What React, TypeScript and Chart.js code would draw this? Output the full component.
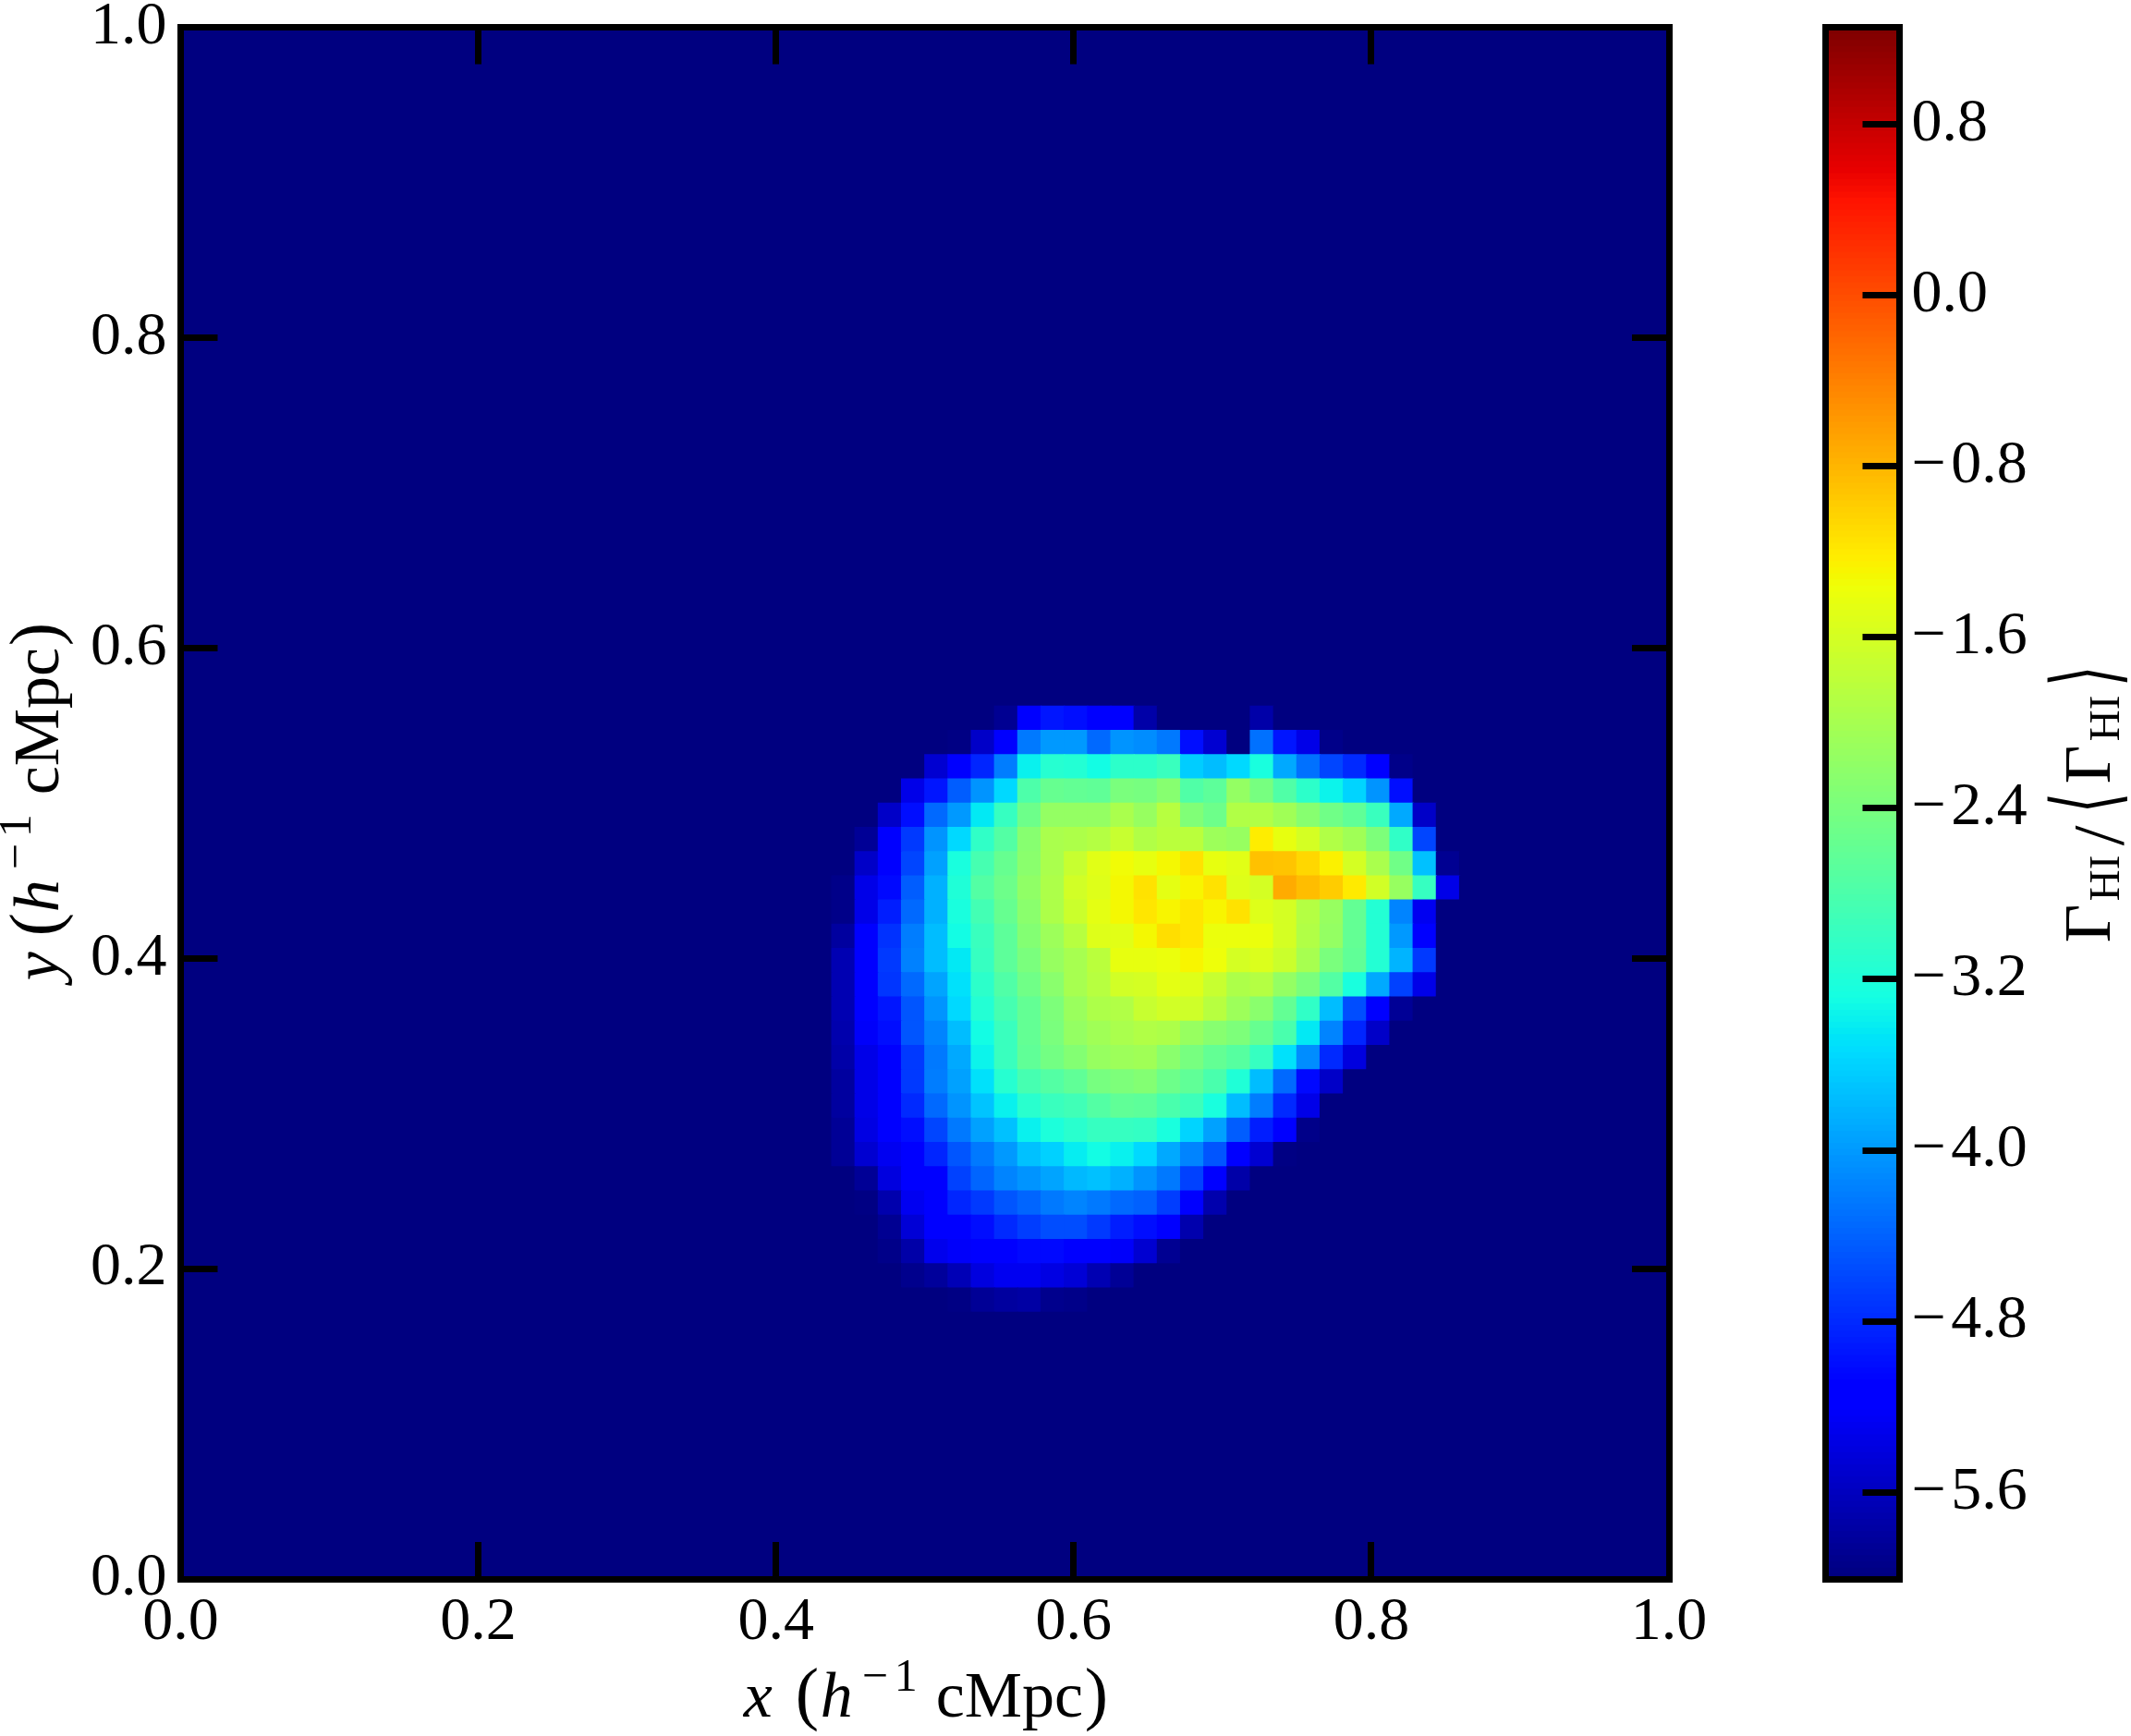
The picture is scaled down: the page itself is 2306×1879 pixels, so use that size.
import React, { useEffect, useRef } from "react";
import { Chart, registerables } from "chart.js";

Chart.register(...registerables);

const F = -6.005; // floor of the colour scale (background)
const vMin = -6.005;
const vMax = 1.253;
const gridSize = 64;

const xTicks = [0, 0.2, 0.4, 0.6, 0.8, 1];
const yTicks = [0, 0.2, 0.4, 0.6, 0.8, 1];
const barTicks = [-5.6, -4.8, -4, -3.2, -2.4, -1.6, -0.8, 0, 0.8];

// Rows are counted from the top of the map; first column of each row is in rowStarts.
const row28 = [-5.9, -5.2, -4.95, -5.0, -5.2, -5.15, -5.75, F, F, F, F, -5.75];
const row29 = [-5.98, -5.55, -5.1, -4.25, -4.0, -4.0, -4.35, -4.05, -4.1, -4.25, -5.0, -5.5, F, -4.3, -4.95, -5.35, -5.95];
const row30 = [-5.5, -5.2, -4.85, -4.2, -3.4, -3.12, -3.15, -3.3, -3.07, -3.07, -2.95, -3.65, -3.75, -3.55, -3.25, -3.9, -4.3, -4.6, -4.8, -5.2, -5.95];
const row31 = [-5.35, -4.95, -4.45, -4.05, -3.55, -2.8, -2.55, -2.58, -2.62, -2.4, -2.42, -2.28, -2.75, -2.65, -2.15, -2.42, -2.75, -3.07, -3.35, -3.58, -4.05, -5.0];
const row32 = [-5.55, -5.0, -4.35, -4.0, -3.45, -3.0, -2.5, -2.17, -2.17, -2.17, -1.97, -2.12, -1.85, -2.32, -2.5, -1.92, -1.9, -2.05, -2.28, -2.47, -2.62, -2.97, -3.9, -5.55];
const row33 = [-5.85, -5.2, -4.7, -4.05, -3.55, -3.05, -2.72, -2.28, -1.97, -1.93, -1.87, -1.7, -1.9, -1.82, -1.82, -2.08, -2.12, -1.22, -1.42, -1.6, -1.9, -2.05, -2.35, -3.05, -4.6];
const row34 = [-5.55, -5.2, -4.6, -3.95, -3.25, -2.85, -2.55, -2.25, -1.97, -1.7, -1.48, -1.35, -1.42, -1.3, -1.13, -1.43, -1.48, -0.87, -0.9, -1.06, -1.25, -1.6, -1.97, -2.47, -3.72, -5.9];
const row35 = [-5.95, -5.35, -5.05, -4.45, -3.85, -3.2, -2.72, -2.5, -2.2, -1.93, -1.62, -1.52, -1.3, -1.13, -1.45, -1.28, -1.13, -1.5, -1.58, -0.72, -0.85, -0.98, -1.2, -1.62, -2.12, -3.0, -5.35];
const row36 = [-5.95, -5.35, -4.9, -4.35, -3.85, -3.25, -2.87, -2.55, -2.25, -1.93, -1.68, -1.45, -1.3, -1.17, -1.28, -1.17, -1.27, -1.13, -1.5, -1.6, -1.87, -2.12, -2.6, -3.15, -4.15, -5.3];
const row37 = [-5.8, -5.2, -4.75, -4.2, -3.75, -3.3, -2.95, -2.65, -2.3, -2.08, -1.85, -1.5, -1.48, -1.3, -1.12, -1.17, -1.38, -1.38, -1.38, -1.6, -1.9, -2.17, -2.6, -3.15, -4.0, -5.2];
const row38 = [-5.7, -5.2, -4.7, -4.18, -3.75, -3.45, -3.0, -2.65, -2.4, -2.12, -2.0, -1.83, -1.42, -1.42, -1.38, -1.28, -1.37, -1.6, -1.55, -1.68, -2.0, -2.4, -2.62, -3.15, -3.82, -4.7];
const row39 = [-5.68, -5.2, -4.72, -4.35, -3.92, -3.5, -3.08, -2.77, -2.47, -2.25, -2.0, -1.85, -1.62, -1.6, -1.45, -1.5, -1.7, -1.93, -1.88, -2.17, -2.4, -2.72, -3.25, -3.9, -4.65, -5.35];
const row40 = [-5.68, -5.15, -4.95, -4.5, -4.05, -3.55, -3.15, -2.85, -2.58, -2.35, -2.1, -1.93, -1.9, -1.72, -1.62, -1.65, -1.85, -2.08, -2.25, -2.6, -3.05, -3.75, -4.55, -5.15, -5.85];
const row41 = [-5.72, -5.25, -5.0, -4.5, -4.15, -3.75, -3.3, -2.95, -2.58, -2.4, -2.17, -2.05, -1.95, -1.9, -1.93, -2.12, -2.28, -2.35, -2.55, -2.82, -3.45, -4.15, -4.85, -5.55];
const row42 = [-5.75, -5.35, -5.15, -4.7, -4.25, -3.9, -3.35, -2.95, -2.62, -2.45, -2.3, -2.12, -2.08, -2.05, -2.25, -2.42, -2.58, -2.7, -3.0, -3.5, -4.1, -4.8, -5.4];
const row43 = [-5.8, -5.35, -5.2, -4.7, -4.2, -3.95, -3.5, -3.13, -2.85, -2.72, -2.62, -2.42, -2.35, -2.3, -2.5, -2.62, -2.82, -3.2, -3.75, -4.35, -5.05, -5.55];
const row44 = [-5.8, -5.35, -5.2, -4.8, -4.35, -4.05, -3.7, -3.4, -3.1, -2.97, -2.9, -2.72, -2.62, -2.65, -2.82, -2.93, -3.25, -3.77, -4.2, -4.8, -5.35];
const row45 = [-5.85, -5.38, -5.2, -5.0, -4.6, -4.25, -3.95, -3.72, -3.4, -3.22, -3.1, -3.0, -3.0, -3.03, -3.25, -3.58, -3.95, -4.45, -4.9, -5.2, -5.95];
const row46 = [-5.85, -5.5, -5.3, -5.15, -4.85, -4.5, -4.25, -4.0, -3.72, -3.6, -3.42, -3.3, -3.38, -3.55, -3.9, -4.15, -4.5, -5.1, -5.5, -5.98];
const row47 = [-5.85, -5.42, -5.2, -5.1, -4.65, -4.38, -4.15, -4.05, -3.92, -3.78, -3.73, -3.85, -4.05, -4.25, -4.65, -5.18, -5.75];
const row48 = [-5.97, -5.72, -5.3, -5.15, -4.85, -4.7, -4.5, -4.38, -4.25, -4.15, -4.25, -4.35, -4.4, -4.68, -5.15, -5.72];
const row49 = [-5.9, -5.45, -5.2, -5.15, -5.02, -4.82, -4.68, -4.55, -4.55, -4.7, -4.9, -5.0, -5.18, -5.72];
const row50 = [-5.95, -5.75, -5.33, -5.25, -5.18, -5.12, -5.05, -5.05, -5.15, -5.18, -5.25, -5.5, -5.9];
const row51 = [-5.92, -5.82, -5.65, -5.42, -5.28, -5.28, -5.38, -5.45, -5.7, -5.87];
const row52 = [-5.97, -5.85, -5.8, -5.78, -5.92, -5.95];

const firstRow = 28;
const rowStarts = [35, 33, 32, 31, 30, 29, 29, 28, 28, 28, 28, 28, 28, 28, 28, 28, 28, 28, 28, 29, 29, 30, 30, 31, 33];
const mapRows = [row28, row29, row30, row31, row32, row33, row34, row35, row36, row37, row38, row39, row40, row41, row42, row43, row44, row45, row46, row47, row48, row49, row50, row51, row52];

type Seg = { t: string; dx: number; size: number; italic?: boolean; dy?: number; family?: string; sx?: number };

const xTitle: Seg[] = [
  { t: "x", dx: 0, size: 70, italic: true },
  { t: "(", dx: 56, size: 76 },
  { t: "h", dx: 83, size: 70, italic: true },
  { t: "\u2212", dx: 128, size: 50, dy: 28 },
  { t: "1", dx: 163, size: 50, dy: 28 },
  { t: "cMpc", dx: 208, size: 70 },
  { t: ")", dx: 369, size: 76 },
];
const yTitle: Seg[] = [
  { t: "y", dx: 0, size: 70, italic: true },
  { t: "(", dx: 48, size: 76 },
  { t: "h", dx: 74, size: 70, italic: true },
  { t: "\u2212", dx: 120, size: 50, dy: 30 },
  { t: "1", dx: 155, size: 50, dy: 30 },
  { t: "cMpc", dx: 201, size: 70 },
  { t: ")", dx: 362, size: 76 },
];
const barTitle: Seg[] = [
  { t: "\u0393", dx: 0, size: 72 },
  { t: "HI", dx: 45, size: 47, dy: -10 },
  { t: "/", dx: 105, size: 78, dy: -14 },
  { t: "\u27E8", dx: 140, size: 97, family: "DejaVu Sans", dy: -6, sx: 0.6 },
  { t: "\u0393", dx: 172, size: 72 },
  { t: "HI", dx: 218, size: 47, dy: -10 },
  { t: "\u27E9", dx: 277, size: 97, family: "DejaVu Sans", dy: -6, sx: 0.6 },
];

const serif = "'Liberation Serif'";

function jet(v: number): string {
  const raw = (v - vMin) / (vMax - vMin);
  const f = Math.round(Math.min(1, Math.max(0, raw)) * 255) / 255;
  const ramp = (pts: number[][]) => {
    for (let i = 1; i < pts.length; i++) {
      if (f <= pts[i][0]) {
        const [a, ya] = pts[i - 1];
        const [b, yb] = pts[i];
        return ya + ((f - a) / (b - a)) * (yb - ya);
      }
    }
    return pts[pts.length - 1][1];
  };
  const r = ramp([[0, 0], [0.35, 0], [0.66, 1], [0.89, 1], [1, 0.5]]);
  const g = ramp([[0, 0], [0.125, 0], [0.375, 1], [0.64, 1], [0.91, 0], [1, 0]]);
  const b = ramp([[0, 0.5], [0.11, 1], [0.34, 1], [0.65, 0], [1, 0]]);
  return `rgb(${Math.round(r * 255)},${Math.round(g * 255)},${Math.round(b * 255)})`;
}

function valueAt(col: number, row: number): number {
  const i = row - firstRow;
  if (i < 0 || i >= mapRows.length) return F;
  const j = col - rowStarts[i];
  const r = mapRows[i];
  if (j < 0 || j >= r.length) return F;
  return r[j];
}

const cells: { x: number; y: number[]; v: number }[] = [];
for (let row = 0; row < gridSize; row++) {
  for (let col = 0; col < gridSize; col++) {
    cells.push({
      x: (col + 0.5) / gridSize,
      y: [1 - (row + 1) / gridSize, 1 - row / gridSize],
      v: valueAt(col, row),
    });
  }
}
const barLevels = Array.from({ length: 256 }, (_, i) => vMin + ((i + 0.5) / 256) * (vMax - vMin));
const barCells = barLevels.map((v, i) => ({
  x: 0.5,
  y: [vMin + (i / 256) * (vMax - vMin), vMin + ((i + 1) / 256) * (vMax - vMin)],
  v,
}));

function drawSegs(ctx: CanvasRenderingContext2D, segs: Seg[], ox: number, oy: number, rotate: boolean) {
  ctx.save();
  ctx.translate(ox, oy);
  if (rotate) ctx.rotate(-Math.PI / 2);
  ctx.fillStyle = "#000";
  ctx.textBaseline = "alphabetic";
  ctx.textAlign = "left";
  for (const s of segs) {
    const fam = s.family ? `'${s.family}'` : serif;
    ctx.font = `${s.italic ? "italic " : ""}${s.size}px ${fam}`;
    ctx.save();
    ctx.translate(s.dx, -(s.dy ?? 0));
    if (s.sx) ctx.scale(s.sx, 1);
    ctx.fillText(s.t, 0, 0);
    ctx.restore();
  }
  ctx.restore();
}

const frameW = 7;
const tickLen = 40;

function axisBase(extra: any) {
  return {
    type: "linear",
    offset: false,
    border: { display: true, width: frameW, color: "#000", z: 1 },
    grid: {
      offset: false,
      drawOnChartArea: false,
      drawTicks: true,
      tickLength: -tickLen,
      tickWidth: frameW,
      tickColor: "#000",
      lineWidth: frameW,
      color: "#000",
      z: 1,
    },
    ...extra,
  };
}

function fixedTicks(list: number[]) {
  return (s: any) => {
    s.ticks = list.map((value) => ({ value }));
  };
}
const clearPad = (s: any) => {
  s.paddingLeft = 0;
  s.paddingRight = 0;
  s.paddingTop = 0;
  s.paddingBottom = 0;
};
const fitH = (h: number) => (s: any) => {
  s.height = h;
  clearPad(s);
};
const fitW = (w: number) => (s: any) => {
  s.width = w;
  clearPad(s);
};
const noLabels = { display: false };
const fmt = (v: any) => {
  const n = Number(v);
  return (n < 0 ? "\u2212\u200A" : "") + Math.abs(n).toFixed(1);
};
const labelFont = { family: serif, size: 66 };
const barDataset = (data: any[]) => ({
  data,
  backgroundColor: data.map((c) => jet(c.v)),
  borderWidth: 0,
  barPercentage: 1,
  categoryPercentage: 1,
  inflateAmount: 0.6,
});
const baseOptions = {
  animation: false,
  responsive: false,
  devicePixelRatio: 1,
  events: [],
  layout: { padding: 0 },
  plugins: { legend: { display: false }, tooltip: { enabled: false } },
};

export default function App() {
  const mainRef = useRef<HTMLCanvasElement>(null);
  const barRef = useRef<HTMLCanvasElement>(null);

  useEffect(() => {
    const titles = {
      id: "mathTitles",
      afterDraw(chart: any) {
        const { ctx, chartArea: a } = chart;
        const cx = (a.left + a.right) / 2;
        const cy = (a.top + a.bottom) / 2;
        drawSegs(ctx, xTitle, cx - 196, 1858, false);
        drawSegs(ctx, yTitle, 63, cy + 192, true);
      },
    };
    const main = new Chart(mainRef.current as HTMLCanvasElement, {
      type: "bar",
      data: { datasets: [barDataset(cells)] },
      options: {
        ...baseOptions,
        scales: {
          x: axisBase({
            position: "bottom",
            min: 0,
            max: 1,
            afterBuildTicks: fixedTicks(xTicks),
            afterFit: fitH(170),
            ticks: { font: labelFont, color: "#000", padding: 48, maxRotation: 0, autoSkip: false, callback: fmt, z: 1 },
          }),
          x2: axisBase({
            position: "top",
            min: 0,
            max: 1,
            afterBuildTicks: fixedTicks(xTicks),
            afterFit: fitH(29.5),
            ticks: noLabels,
          }),
          y: axisBase({
            position: "left",
            min: 0,
            max: 1,
            afterBuildTicks: fixedTicks(yTicks),
            afterFit: fitW(195.5),
            ticks: { font: labelFont, color: "#000", padding: 55, autoSkip: false, callback: fmt, z: 1 },
          }),
          y2: axisBase({
            position: "right",
            min: 0,
            max: 1,
            afterBuildTicks: fixedTicks(yTicks),
            afterFit: fitW(94),
            ticks: noLabels,
          }),
        } as any,
      },
      plugins: [titles],
    } as any);

    const barTitles = {
      id: "barTitle",
      afterDraw(chart: any) {
        const { ctx, chartArea: a } = chart;
        drawSegs(ctx, barTitle, 383, (a.top + a.bottom) / 2 + 151, true);
      },
    };
    const frameOnly = (extra: any) => {
      const o = axisBase({ afterBuildTicks: fixedTicks([]), ticks: noLabels, ...extra });
      o.grid = { ...o.grid, drawTicks: false };
      return o;
    };
    const bar = new Chart(barRef.current as HTMLCanvasElement, {
      type: "bar",
      data: { datasets: [barDataset(barCells)] },
      options: {
        ...baseOptions,
        scales: {
          x: frameOnly({ position: "bottom", min: 0, max: 1, afterFit: fitH(170) }),
          x2: frameOnly({ position: "top", min: 0, max: 1, afterFit: fitH(29.5) }),
          y: frameOnly({ position: "left", min: vMin, max: vMax, afterFit: fitW(75.5) }),
          y2: axisBase({
            axis: "y",
            position: "right",
            min: vMin,
            max: vMax,
            afterBuildTicks: fixedTicks(barTicks),
            afterFit: fitW(250.5),
            ticks: { font: labelFont, color: "#000", padding: 53, autoSkip: false, callback: fmt, z: 1 },
          }),
        } as any,
      },
      plugins: [barTitles],
    } as any);

    return () => {
      main.destroy();
      bar.destroy();
    };
  }, []);

  return (
    <div style={{ position: "absolute", left: 0, top: 0, width: 2306, height: 1879, background: "#fff", overflow: "hidden" }}>
      <canvas ref={mainRef} width={1900} height={1879} style={{ position: "absolute", left: 0, top: 0, width: 1900, height: 1879 }} />
      <canvas ref={barRef} width={406} height={1879} style={{ position: "absolute", left: 1900, top: 0, width: 406, height: 1879 }} />
    </div>
  );
}
